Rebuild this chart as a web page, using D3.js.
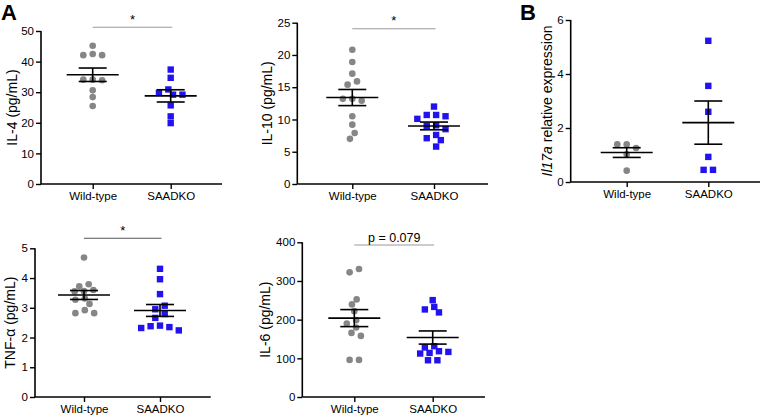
<!DOCTYPE html>
<html>
<head>
<meta charset="utf-8">
<script src="https://cdn.jsdelivr.net/npm/d3@7"></script>
<style>
  html, body { margin: 0; padding: 0; background: #fff; }
  svg { display: block; font-family: "Liberation Sans", Arial, Helvetica, sans-serif; }
</style>
</head>
<body>
<svg id="chart" width="765" height="417"></svg>
<script>
// ---------- DATA ----------
const categories = ["Wild-type", "SAADKO"];

const il4WT = [45.2, 42.1, 42.1, 42.5, 34.1, 34.1, 33.9, 30.6, 28.4, 25.5];
const il4KO = [37.4, 34.7, 30.9, 29.8, 29.2, 29.2, 25.7, 22.1, 19.9];
const il4Mean = [35.7, 28.8];
const il4Sem = [2.2, 2.0];
const il4Ticks = [0, 10, 20, 30, 40, 50];

const il10WT = [20.8, 18.9, 17.1, 15.9, 15.4, 13.2, 13.2, 12.9, 10.5, 9.2, 7.9, 7.0];
const il10KO = [12.0, 10.7, 10.5, 10.7, 10.1, 9.1, 9.0, 8.5, 7.6, 7.1, 6.8, 5.8];
const il10Mean = [13.4, 9.0];
const il10Sem = [1.25, 0.6];
const il10Ticks = [0, 5, 10, 15, 20, 25];

const tnfWT = [4.69, 3.79, 3.72, 3.60, 3.56, 3.55, 3.31, 3.27, 3.13, 2.92, 2.82, 2.82];
const tnfKO = [4.31, 3.96, 3.46, 3.07, 2.95, 2.79, 2.66, 2.40, 2.35, 2.24, 2.32, 2.38];
const tnfMean = [3.43, 2.91];
const tnfSem = [0.15, 0.2];
const tnfTicks = [0, 1, 2, 3, 4, 5];

const il6WT = [330.8, 322.3, 252.3, 239.4, 222, 198.7, 190.2, 179.8, 165.8, 158, 95.9, 95.9];
const il6KO = [250.5, 233, 226.4, 218.7, 131.3, 128, 118.4, 116.6, 114, 112.4, 95, 95];
const il6Mean = [204, 153.8];
const il6Sem = [22, 17];
const il6Ticks = [0, 100, 200, 300, 400];

const il17WT = [1.40, 1.40, 1.26, 1.03, 0.42];
const il17KO = [5.23, 3.56, 2.60, 0.93, 0.45, 0.45];
const il17Mean = [1.09, 2.20];
const il17Sem = [0.18, 0.8];
const il17Ticks = [0, 2, 4, 6];

const sigLabels = ["*", "*", "*", "p = 0.079"];
const panelLetters = ["A", "B"];

// ---------- LAYOUT ----------
const GREY = "#868686";
const BLUE = "#2212f0";

const panels = [
  { label: "IL-4 (pg/mL)", wt: il4WT, ko: il4KO, mean: il4Mean, sem: il4Sem, ticks: il4Ticks,
    ax: 41, top: 31, bottom: 184, right: 222, c1: 92.7, c2: 170.7, labelX: 12,
    sig: { text: sigLabels[0], y: 27.3, color: "#9a9a9a", size: 13 } },
  { label: "IL-10 (pg/mL)", wt: il10WT, ko: il10KO, mean: il10Mean, sem: il10Sem, ticks: il10Ticks,
    ax: 297.3, top: 22.7, bottom: 184, right: 488, c1: 352.3, c2: 434, labelX: 267,
    sig: { text: sigLabels[1], y: 28.7, color: "#9a9a9a", size: 13 } },
  { label: "TNF-\u03b1 (pg/mL)", wt: tnfWT, ko: tnfKO, mean: tnfMean, sem: tnfSem, ticks: tnfTicks,
    ax: 35, top: 248.3, bottom: 397, right: 210.7, c1: 84, c2: 160, labelX: 10,
    sig: { text: sigLabels[2], y: 238.3, color: "#555", size: 13 } },
  { label: "IL-6 (pg/mL)", wt: il6WT, ko: il6KO, mean: il6Mean, sem: il6Sem, ticks: il6Ticks,
    ax: 302.3, top: 242.3, bottom: 397, right: 485, c1: 354.3, c2: 432.7, labelX: 265,
    sig: { text: sigLabels[3], y: 245, color: "#9a9a9a", size: 12.5 } },
  { label: null, italic: "Il17a", rest: " relative expression",
    wt: il17WT, ko: il17KO, mean: il17Mean, sem: il17Sem, ticks: il17Ticks,
    ax: 570.7, top: 20, bottom: 182, right: 760, c1: 626.7, c2: 708.3, labelX: 547, sig: null }
];

const svg = d3.select("#chart");

function swarm(values, y, cx) {
  const s = 4.7, d = 6.6;
  const pts = values.map(v => ({ v, py: y(v), dx: 0 }));
  const order = pts.slice().sort((a, b) => a.py - b.py);
  const placed = [];
  for (const p of order) {
    for (let k = 0; k < 60; k++) {
      const off = k === 0 ? 0 : (k % 2 ? -Math.ceil(k / 2) : Math.ceil(k / 2)) * s;
      if (placed.every(q => Math.hypot(q.dx - off, q.py - p.py) >= d)) { p.dx = off; break; }
    }
    placed.push(p);
  }
  const comps = []; let comp = []; let last = -Infinity;
  for (const p of order) {
    if (comp.length && p.py - last >= d) { comps.push(comp); comp = []; }
    comp.push(p); last = p.py;
  }
  if (comp.length) comps.push(comp);
  comps.forEach(c => { const m = d3.mean(c, p => p.dx); c.forEach(p => { p.dx -= m; }); });
  return pts.map(p => ({ v: p.v, y: p.py, x: cx + p.dx }));
}

panels.forEach(P => {
  const g = svg.append("g");
  const y = d3.scaleLinear().domain([0, d3.max(P.ticks)]).range([P.bottom, P.top]);
  const x = d3.scalePoint().domain(categories).range([P.c1, P.c2]);

  // y axis
  const yAxis = d3.axisLeft(y).tickValues(P.ticks).tickSize(5).tickPadding(2).tickFormat(d3.format("d"));
  const ya = g.append("g").attr("transform", `translate(${P.ax},0)`).call(yAxis);
  ya.select(".domain").attr("stroke", "#000").attr("stroke-width", 1.6).attr("d", `M0,${P.top}V${P.bottom}`);
  ya.selectAll(".tick line").attr("stroke", "#000").attr("stroke-width", 1.4);
  ya.selectAll(".tick text").attr("fill", "#000").style("font-size", "11.5px")
    .style("font-family", '"Liberation Sans", Arial, sans-serif');

  // x axis
  const xAxis = d3.axisBottom(x).tickSize(5).tickPadding(3);
  const xa = g.append("g").attr("transform", `translate(0,${P.bottom})`).call(xAxis);
  xa.select(".domain").attr("stroke", "#000").attr("stroke-width", 1.6).attr("d", `M${P.ax},0H${P.right}`);
  xa.selectAll(".tick line").attr("stroke", "#000").attr("stroke-width", 1.4);
  xa.selectAll(".tick text").attr("fill", "#000").style("font-size", "11.5px")
    .style("font-family", '"Liberation Sans", Arial, sans-serif');

  // y label
  const yl = g.append("text")
    .attr("transform", `translate(${P.labelX},${(P.top + P.bottom) / 2}) rotate(-90)`)
    .attr("text-anchor", "middle").attr("dy", "0.35em")
    .style("font-size", "14px").attr("fill", "#000");
  if (P.label) yl.text(P.label);
  else {
    yl.append("tspan").style("font-style", "italic").text(P.italic);
    yl.append("tspan").text(P.rest);
  }

  // points
  const wtPts = swarm(P.wt, y, x(categories[0]));
  const koPts = swarm(P.ko, y, x(categories[1]));
  g.selectAll("circle.pt").data(wtPts).join("circle")
    .attr("class", "pt").attr("cx", d => d.x).attr("cy", d => d.y).attr("r", 3.3).attr("fill", GREY);
  const sq = 6.4;
  g.selectAll("rect.pt").data(koPts).join("rect")
    .attr("class", "pt").attr("x", d => d.x - sq / 2).attr("y", d => d.y - sq / 2)
    .attr("width", sq).attr("height", sq).attr("fill", BLUE);

  // mean + SEM
  categories.forEach((c, i) => {
    const cx = x(c), m = P.mean[i], s = P.sem[i];
    const eg = g.append("g").attr("stroke", "#000").attr("stroke-width", 1.6);
    eg.append("line").attr("x1", cx - 26).attr("x2", cx + 26).attr("y1", y(m)).attr("y2", y(m));
    eg.append("line").attr("x1", cx).attr("x2", cx).attr("y1", y(m + s)).attr("y2", y(m - s));
    eg.append("line").attr("x1", cx - 14).attr("x2", cx + 14).attr("y1", y(m + s)).attr("y2", y(m + s));
    eg.append("line").attr("x1", cx - 14).attr("x2", cx + 14).attr("y1", y(m - s)).attr("y2", y(m - s));
  });

  // significance
  if (P.sig) {
    const x1 = x(categories[0]), x2 = x(categories[1]) + 1.5;
    g.append("line").attr("x1", x1).attr("x2", x2).attr("y1", P.sig.y).attr("y2", P.sig.y)
      .attr("stroke", P.sig.color).attr("stroke-width", 1.1);
    g.append("text").attr("x", (x1 + x2) / 2).attr("y", P.sig.y - 3.5)
      .attr("text-anchor", "middle").style("font-size", P.sig.size + "px").attr("fill", "#000")
      .text(P.sig.text);
  }
});

// panel letters
svg.append("text").attr("x", 1).attr("y", 19.5).style("font-size", "22px").style("font-weight", "bold")
  .attr("fill", "#000").text(panelLetters[0]);
svg.append("text").attr("x", 520).attr("y", 19.5).style("font-size", "22px").style("font-weight", "bold")
  .attr("fill", "#000").text(panelLetters[1]);
</script>
</body>
</html>
